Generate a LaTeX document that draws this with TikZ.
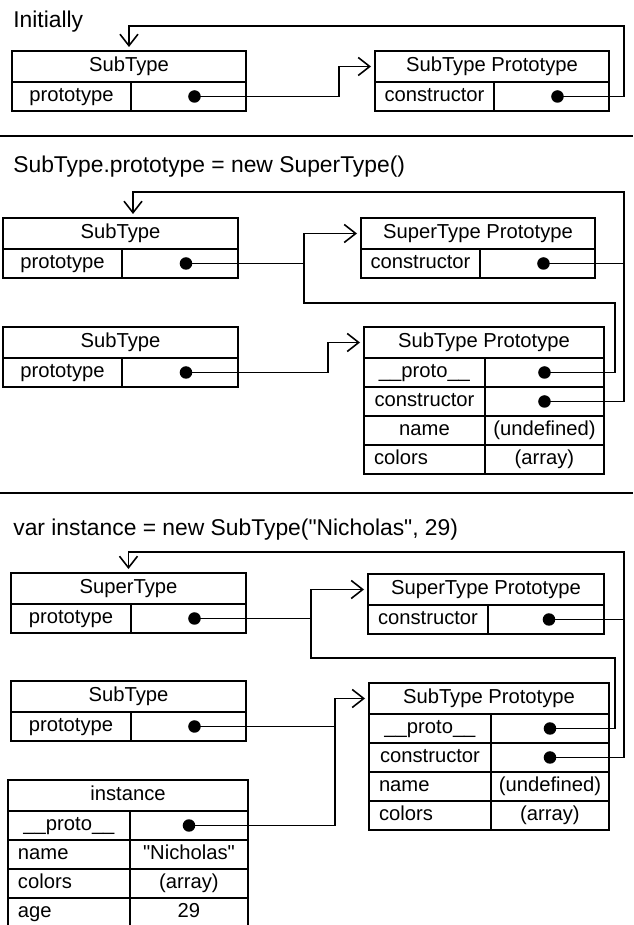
\documentclass[tikz,border=0pt]{standalone}
\usepackage{fontspec}
\setmainfont{Liberation Sans}
\usetikzlibrary{arrows.meta}
\newcommand{\cellfont}{\fontsize{11.5}{13}\selectfont}
\newcommand{\titlefont}{\fontsize{13}{15}\selectfont}
\tikzset{
  cell/.style={draw,line width=.9pt,inner sep=0pt,outer sep=0pt,anchor=north west,minimum height=.58cm,
    text height=8.4pt,text depth=2.4pt,font=\cellfont},
  head/.style={cell,minimum height=.62cm},
  lcell/.style={cell,inner xsep=.2cm,text width=#1,align=left},
  dot/.style={circle,fill,inner sep=0pt,minimum size=.25cm},
  wire/.style={line width=.9pt},
  ptr/.style={wire,-{Straight Barb[length=2.3mm,width=3.6mm]},shorten >=.8mm},
  title/.style={anchor=base west,inner sep=0pt,font=\titlefont},
}
\begin{document}
\begin{tikzpicture}[x=.02cm,y=-.02cm]
\useasboundingbox (0,0) rectangle (633,925);
% Initially
\node[title] (t1) at (13,28) {Initially};
\node[head,minimum width=4.68cm] (st1) at (12,51) {SubType};
\node[cell,minimum width=2.38cm] (st1k) at (st1.south west) {prototype};
\node[cell,minimum width=2.30cm] (st1v) at (st1k.north east) {};
\node[dot] (d1) at ([xshift=.12cm]st1v.center) {};
%
\node[head,minimum width=4.68cm] (stp1) at (375,51) {SubType Prototype};
\node[cell,minimum width=2.38cm] (stp1k) at (stp1.south west) {constructor};
\node[cell,minimum width=2.30cm] (stp1v) at (stp1k.north east) {};
\node[dot] (d2) at ([xshift=.12cm]stp1v.center) {};
%
\coordinate (b1) at (339,0);
\coordinate (r1) at (624,26);
\draw[ptr] (d1.center) -- (d1 -| b1) |- (stp1.west);
\draw[ptr] (d2.center) -| (r1) -| (st1.north);
%
\draw[line width=1.1pt] (0,136) -- (633,136);
% SubType.prototype = new SuperType()
\node[title] (t2) at (13,173) {SubType.prototype = new SuperType()};
\node[head,minimum width=4.70cm] (st2a) at (3,218) {SubType};
\node[cell,minimum width=2.38cm] (st2ak) at (st2a.south west) {prototype};
\node[cell,minimum width=2.32cm] (st2av) at (st2ak.north east) {};
\node[dot] (d3) at ([xshift=.12cm]st2av.center) {};
%
\node[head,minimum width=4.68cm] (spp2) at (361,218) {SuperType Prototype};
\node[cell,minimum width=2.38cm] (spp2k) at (spp2.south west) {constructor};
\node[cell,minimum width=2.30cm] (spp2v) at (spp2k.north east) {};
\node[dot] (d4) at ([xshift=.12cm]spp2v.center) {};
%
\node[head,minimum width=4.70cm] (st2b) at (3,327) {SubType};
\node[cell,minimum width=2.38cm] (st2bk) at (st2b.south west) {prototype};
\node[cell,minimum width=2.32cm] (st2bv) at (st2bk.north east) {};
\node[dot] (d7) at ([xshift=.12cm]st2bv.center) {};
%
\node[head,minimum width=4.80cm] (stp2) at (364,327) {SubType Prototype};
\node[cell,minimum width=2.42cm] (stp2pk) at (stp2.south west) {\_\_proto\_\_};
\node[cell,minimum width=2.38cm] (stp2pv) at (stp2pk.north east) {};
\node[cell,minimum width=2.42cm] (stp2ck) at (stp2pk.south west) {constructor};
\node[cell,minimum width=2.38cm] (stp2cv) at (stp2ck.north east) {};
\node[cell,minimum width=2.42cm] (stp2nk) at (stp2ck.south west) {name};
\node[cell,minimum width=2.38cm] (stp2nv) at (stp2nk.north east) {(undefined)};
\node[lcell=2.02cm] (stp2ak) at (stp2nk.south west) {colors};
\node[cell,minimum width=2.38cm] (stp2av) at (stp2ak.north east) {(array)};
\node[dot] (d5) at (stp2pv.center) {};
\node[dot] (d6) at (stp2cv.center) {};
%
\coordinate (b2) at (304,0);
\coordinate (r2) at (624,192);
\coordinate (a2) at (133,192);
\coordinate (q2) at (615,303);
\coordinate (b3) at (328,0);
\draw[ptr] (d3.center) -- (d3 -| b2) |- (spp2.west);
\draw[ptr] (d4.center) -| (r2) -- (a2) -- (a2 |- st2a.north);
\draw[wire] (d5.center) -| (q2) -| (d3 -| b2);
\draw[wire] (d6.center) -| (r2);
\draw[ptr] (d7.center) -- (d7 -| b3) |- (stp2.west);
%
\draw[line width=1.1pt] (0,493) -- (633,493);
% var instance = new SubType("Nicholas", 29)
\node[title] (t3) at (13,535) {var instance = new SubType(\textquotedbl Nicholas\textquotedbl, 29)};
\node[head,minimum width=4.70cm] (sup3) at (11,573) {SuperType};
\node[cell,minimum width=2.40cm] (sup3k) at (sup3.south west) {prototype};
\node[cell,minimum width=2.30cm] (sup3v) at (sup3k.north east) {};
\node[dot] (d8) at ([xshift=.12cm]sup3v.center) {};
%
\node[head,minimum width=4.72cm] (spp3) at (368,574) {SuperType Prototype};
\node[cell,minimum width=2.40cm] (spp3k) at (spp3.south west) {constructor};
\node[cell,minimum width=2.32cm] (spp3v) at (spp3k.north east) {};
\node[dot] (d9) at ([xshift=.06cm]spp3v.center) {};
%
\node[head,minimum width=4.70cm] (st3) at (11,681) {SubType};
\node[cell,minimum width=2.40cm] (st3k) at (st3.south west) {prototype};
\node[cell,minimum width=2.30cm] (st3v) at (st3k.north east) {};
\node[dot] (d12) at ([xshift=.12cm]st3v.center) {};
%
\node[head,minimum width=4.80cm] (stp3) at (369,683) {SubType Prototype};
\node[cell,minimum width=2.44cm] (stp3pk) at (stp3.south west) {\_\_proto\_\_};
\node[cell,minimum width=2.36cm] (stp3pv) at (stp3pk.north east) {};
\node[cell,minimum width=2.44cm] (stp3ck) at (stp3pk.south west) {constructor};
\node[cell,minimum width=2.36cm] (stp3cv) at (stp3ck.north east) {};
\node[lcell=2.04cm] (stp3nk) at (stp3ck.south west) {name};
\node[cell,minimum width=2.36cm] (stp3nv) at (stp3nk.north east) {(undefined)};
\node[lcell=2.04cm] (stp3ak) at (stp3nk.south west) {colors};
\node[cell,minimum width=2.36cm] (stp3av) at (stp3ak.north east) {(array)};
\node[dot] (d10) at (stp3pv.center) {};
\node[dot] (d11) at (stp3cv.center) {};
%
\node[head,minimum width=4.80cm] (inst) at (8,780) {instance};
\node[cell,minimum width=2.44cm] (instpk) at (inst.south west) {\_\_proto\_\_};
\node[cell,minimum width=2.36cm] (instpv) at (instpk.north east) {};
\node[lcell=2.04cm] (instnk) at (instpk.south west) {name};
\node[cell,minimum width=2.36cm] (instnv) at (instnk.north east) {\textquotedbl Nicholas\textquotedbl};
\node[lcell=2.04cm] (instck) at (instnk.south west) {colors};
\node[cell,minimum width=2.36cm] (instcv) at (instck.north east) {(array)};
\node[lcell=2.04cm] (instak) at (instck.south west) {age};
\node[cell,minimum width=2.36cm] (instav) at (instak.north east) {29};
\node[dot] (d13) at (instpv.center) {};
%
\coordinate (b4) at (311,0);
\coordinate (r3) at (624,552);
\coordinate (q3) at (615,658);
\coordinate (b5) at (335,0);
\draw[ptr] (d8.center) -- (d8 -| b4) |- (spp3.west);
\draw[ptr] (d9.center) -| (r3) -| (sup3.north);
\draw[wire] (d10.center) -| (q3) -| (d8 -| b4);
\draw[wire] (d11.center) -| (r3);
\draw[ptr] (d12.center) -- (d12 -| b5) |- (stp3.west);
\draw[wire] (d13.center) -| (d12 -| b5);
\end{tikzpicture}
\end{document}
